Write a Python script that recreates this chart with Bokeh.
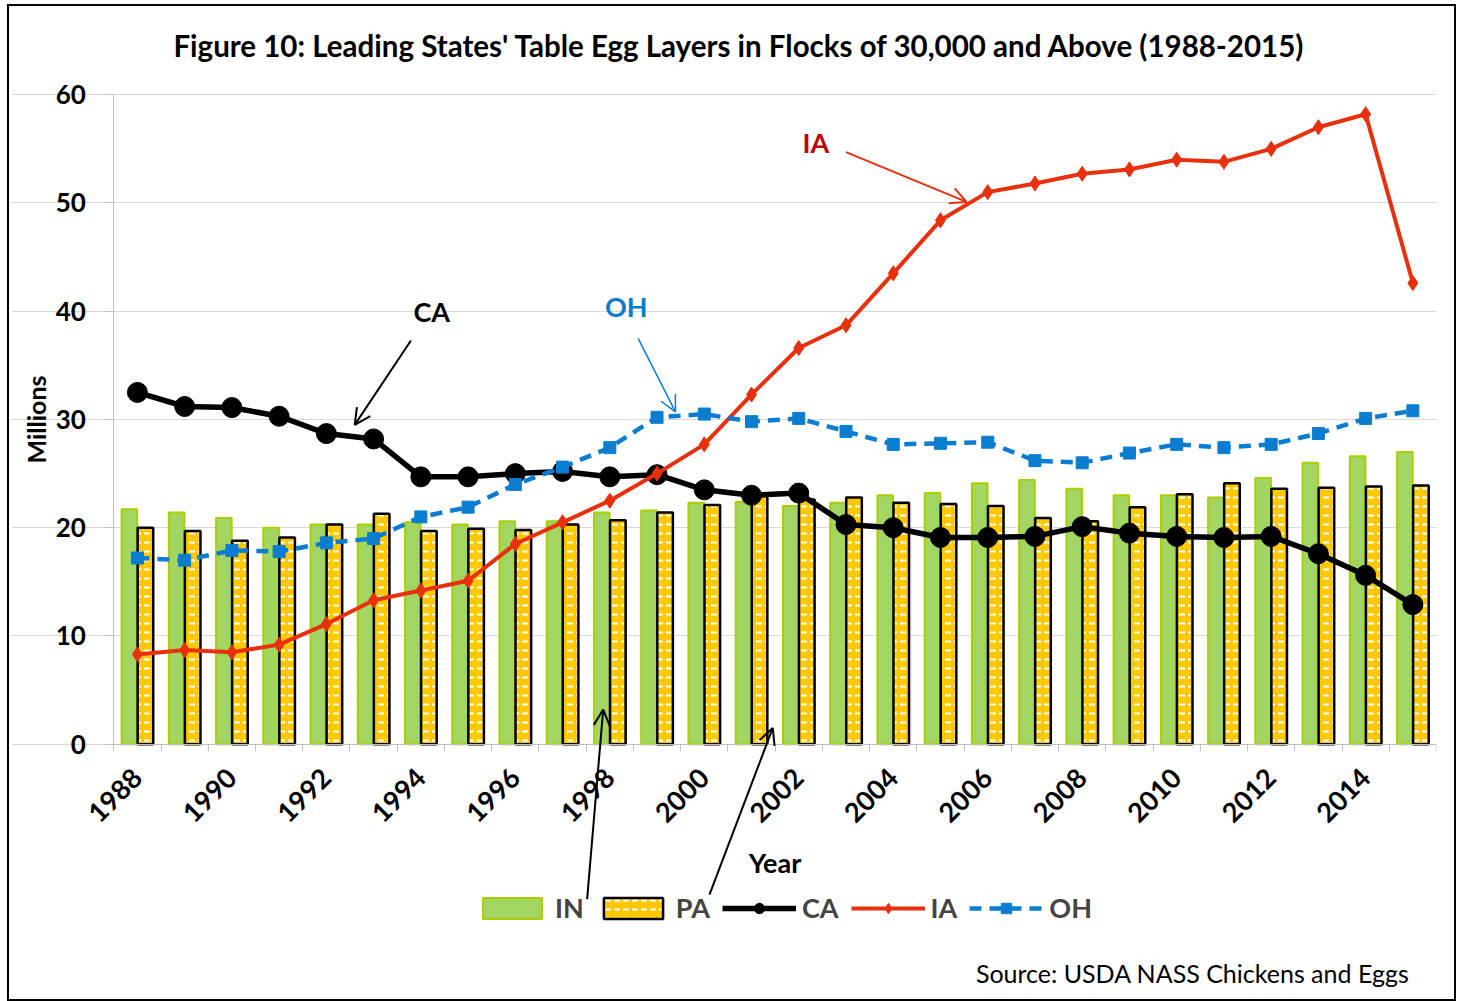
from math import pi
from bokeh.plotting import figure
from bokeh.models import (ColumnDataSource, Range1d, FixedTicker, Legend, LegendItem,
                          Label, Arrow, OpenHead)
from bokeh.transform import dodge
from bokeh.embed import file_html
from bokeh.resources import INLINE

# ---------------- data ----------------
years = list(range(1988, 2016))
tick_years = list(range(1988, 2015, 2))
IN = [21.7, 21.4, 20.9, 20.0, 20.3, 20.3, 20.5, 20.3, 20.6, 20.6, 21.4, 21.6, 22.3, 22.4,
      22.0, 22.3, 23.0, 23.2, 24.1, 24.4, 23.6, 23.0, 23.0, 22.8, 24.6, 26.0, 26.6, 27.0]
PA = [20.0, 19.7, 18.8, 19.1, 20.3, 21.3, 19.7, 19.9, 19.8, 20.3, 20.7, 21.4, 22.1, 22.9,
      22.6, 22.8, 22.3, 22.2, 22.0, 20.9, 20.6, 21.9, 23.1, 24.1, 23.6, 23.7, 23.8, 23.9]
CA = [32.5, 31.2, 31.1, 30.3, 28.7, 28.2, 24.7, 24.7, 25.0, 25.2, 24.7, 24.9, 23.5, 23.0,
      23.2, 20.3, 20.0, 19.1, 19.1, 19.2, 20.1, 19.5, 19.2, 19.1, 19.2, 17.6, 15.6, 12.9]
IA = [8.3, 8.7, 8.5, 9.2, 11.1, 13.3, 14.2, 15.1, 18.5, 20.5, 22.5, 25.0, 27.7, 32.3,
      36.6, 38.7, 43.5, 48.4, 51.0, 51.8, 52.7, 53.1, 54.0, 53.8, 55.0, 57.0, 58.2, 42.6]
OH = [17.2, 17.0, 17.9, 17.8, 18.6, 19.0, 21.0, 21.9, 24.0, 25.6, 27.4, 30.2, 30.5, 29.8,
      30.1, 28.9, 27.7, 27.8, 27.9, 26.2, 26.0, 26.9, 27.7, 27.4, 27.7, 28.7, 30.1, 30.8]
y_ticks = [0, 10, 20, 30, 40, 50, 60]

src = ColumnDataSource(dict(year=years, IN=IN, PA=PA, CA=CA, IA=IA, OH=OH))

FONT = "Lato"
GREEN_FILL = "#A2D561"
GREEN_LINE = "#A9CF00"
YELLOW = "#FFC800"
RED = "#E8300C"
BLUE = "#0B7DD0"
GRID = "#D9D9D9"
AXIS = "#BFBFBF"

X0, X1 = years[0] - 0.5, years[-1] + 0.5

# the frame spans the whole chart box, so that title, legend, arrows, notes and axis
# labels are all drawn inside it; the axes are pinned at x = X0 and y = 0
p = figure(width=1449, height=997, output_backend="svg", toolbar_location=None,
           x_range=Range1d(1985.3347, X1), y_range=Range1d(-23.58, 68.15),
           min_border_left=2, min_border_right=22, min_border_top=0, min_border_bottom=4)
p.styles = {"border": "2px solid black", "margin-left": "7px", "margin-top": "4px"}
p.outline_line_color = None
p.background_fill_color = "white"
p.border_fill_color = "white"

# axes
xa = p.xaxis[0]
xa.fixed_location = 0
xa.bounds = (X0, X1)
xa.ticker = FixedTicker(ticks=tick_years, minor_ticks=[y - 0.5 for y in years] + [X1])
xa.major_tick_line_color = None
xa.minor_tick_line_color = AXIS
xa.minor_tick_out = 7
xa.minor_tick_in = 0
xa.axis_line_color = AXIS
xa.major_label_orientation = pi / 4
xa.major_label_text_font = FONT
xa.major_label_text_font_style = "bold"
xa.major_label_text_font_size = "27px"
xa.major_label_text_color = "black"
xa.major_label_standoff = 22
xa.major_label_overrides = {y: str(y) for y in tick_years}
xa.axis_label = "Year"
xa.axis_label_text_font = FONT
xa.axis_label_text_font_style = "bold"
xa.axis_label_text_font_size = "27px"
xa.axis_label_text_color = "black"
xa.axis_label_standoff = 12

ya = p.yaxis[0]
ya.fixed_location = X0
ya.bounds = (0, 60)
ya.ticker = FixedTicker(ticks=y_ticks)
ya.major_tick_line_color = AXIS
ya.major_tick_out = 8
ya.major_tick_in = 0
ya.minor_tick_line_color = None
ya.axis_line_color = AXIS
ya.major_label_text_font = FONT
ya.major_label_text_font_style = "bold"
ya.major_label_text_font_size = "26px"
ya.major_label_text_color = "black"
ya.major_label_standoff = 20

p.xgrid.grid_line_color = None
p.ygrid.grid_line_color = GRID
p.ygrid.ticker = FixedTicker(ticks=y_ticks)
p.ygrid.bounds = (X0, X1)

# bars
r_in = p.vbar(x=dodge("year", -0.17, range=p.x_range), top="IN", width=0.33, source=src,
              fill_color=GREEN_FILL, line_color=GREEN_LINE, line_width=2)
r_pa = p.vbar(x=dodge("year", 0.17, range=p.x_range), top="PA", width=0.33, source=src,
              fill_color=YELLOW, line_color="black", line_width=2.5,
              hatch_pattern="horizontal_dash", hatch_color="white", hatch_scale=9, hatch_weight=2)

# lines
r_ca_l = p.line("year", "CA", source=src, line_color="black", line_width=5.5)
r_ca_m = p.scatter("year", "CA", source=src, marker="circle", size=20, fill_color="black", line_color="black")
r_ia_l = p.line("year", "IA", source=src, line_color=RED, line_width=4)
r_ia_m = p.scatter("year", "IA", source=src, marker="diamond", size=15, fill_color=RED, line_color=RED)
r_oh_l = p.line("year", "OH", source=src, line_color=BLUE, line_width=4.5, line_dash="12 8")
r_oh_m = p.scatter("year", "OH", source=src, marker="square", size=12, fill_color=BLUE, line_color=BLUE)

legend = Legend(items=[
    LegendItem(label="IN", renderers=[r_in]),
    LegendItem(label="PA", renderers=[r_pa]),
    LegendItem(label="CA", renderers=[r_ca_l, r_ca_m]),
    LegendItem(label="IA", renderers=[r_ia_l, r_ia_m]),
    LegendItem(label="OH", renderers=[r_oh_l, r_oh_m]),
], orientation="horizontal", location=(464, 75))
legend.label_text_font = FONT
legend.label_text_font_style = "bold"
legend.label_text_font_size = "27px"
legend.glyph_width = 74
legend.glyph_height = 26
legend.label_standoff = 6
legend.spacing = 12
legend.padding = 0
legend.margin = 0
legend.border_line_color = None
legend.background_fill_alpha = 0
p.add_layout(legend)

# annotations
def lab(x, y, text, color="black", size="27px", style="bold", align="center", angle=0.0):
    p.add_layout(Label(x=x, y=y, text=text, text_color=color, text_font=FONT,
                       text_font_style=style, text_font_size=size, angle=angle,
                       text_align=align, text_baseline="middle"))

def arr(x0, y0, x1, y1, color, w):
    p.add_layout(Arrow(x_start=x0, y_start=y0, x_end=x1, y_end=y1, line_color=color, line_width=w,
                       end=OpenHead(size=16, line_color=color, line_width=w)))

lab(2000.748, 64.54, "Figure 10: Leading States' Table Egg Layers in Flocks of 30,000 and Above (1988-2015)",
    size="29.5px")
lab(1985.844, 30.0, "Millions", size="25px", angle=pi / 2)
lab(1994.23, 40.0, "CA")
arr(1993.79, 37.3, 1992.6, 29.5, "black", 2)
lab(1998.35, 40.4, "OH", color=BLUE)
arr(1998.6, 37.5, 1999.39, 30.7, BLUE, 1.5)
lab(2002.36, 55.6, "IA", color="#C00000")
arr(2003.0, 54.7, 2005.55, 50.1, RED, 2)
arr(1997.52, -14.3, 1997.86, 3.2, "black", 2)
arr(2000.11, -13.9, 2001.45, 1.5, "black", 2)
lab(2014.93, -21.1, "Source: USDA NASS Chickens and Eggs", size="25px", style="normal", align="right")

open("out.html", "w").write(file_html(p, INLINE))
